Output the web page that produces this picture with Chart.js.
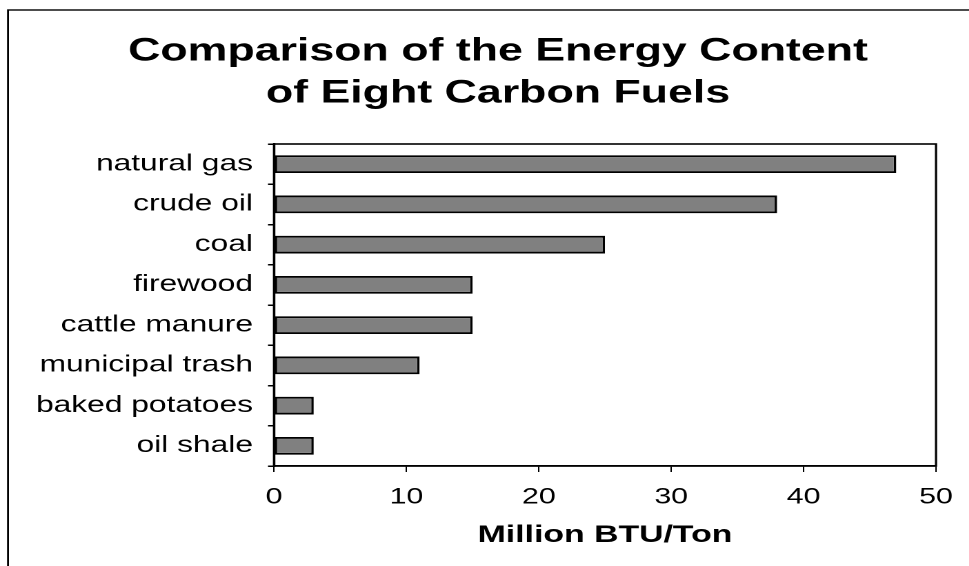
<!DOCTYPE html>
<html>
<head>
<meta charset="utf-8">
<script src="https://cdn.jsdelivr.net/npm/chart.js@4/dist/chart.umd.min.js"></script>
<style>
  html, body { margin: 0; padding: 0; background: #fff; overflow: hidden; }
  #wrap {
    position: absolute; left: 0; top: 0;
    width: 722px; height: 566px;
    transform: scaleX(1.3795); transform-origin: 0 0;
  }
</style>
</head>
<body>
<div id="wrap"><canvas id="c" width="722" height="566"></canvas></div>
<script>
// Fuel categories, top to bottom
const fuels = ['natural gas', 'crude oil', 'coal', 'firewood', 'cattle manure',
               'municipal trash', 'baked potatoes', 'oil shale'];
// Energy content, million BTU per ton
const energy = [47, 38, 25, 15, 15, 11, 3, 3];
// Value axis ticks
const xTicks = [0, 10, 20, 30, 40, 50];

const titleLines = ['Comparison of the Energy Content', 'of Eight Carbon Fuels'];
const xTitle = 'Million BTU/Ton';

// Drawing is done on a narrower canvas that is stretched horizontally
const SX = 1.3795;
const FONT = '"Liberation Sans", Arial, Helvetica, sans-serif';
const CANVAS_W = 722;
const PLOT_LEFT = 274 / SX;
const PLOT_RIGHT = 936 / SX;

const framePlugin = {
  id: 'frames',
  // centre the title across the whole frame rather than the padded area
  afterLayout(chart) {
    if (chart.titleBlock) {
      chart.titleBlock.left = 0;
      chart.titleBlock.right = CANVAS_W;
    }
  },
  beforeDraw(chart) {
    const ctx = chart.ctx;
    ctx.save();
    ctx.strokeStyle = '#000';
    ctx.lineWidth = 1.4;
    ctx.strokeRect(8 / SX, 10, 2000, 2000);
    ctx.restore();
  },
  afterDatasetsDraw(chart) {
    const a = chart.chartArea;
    const ctx = chart.ctx;
    ctx.save();
    ctx.strokeStyle = '#000';
    ctx.lineWidth = 1.6;
    ctx.strokeRect(a.left, a.top, a.right - a.left, a.bottom - a.top);
    ctx.restore();
  }
};

new Chart(document.getElementById('c'), {
  type: 'bar',
  data: {
    labels: fuels,
    datasets: [{
      data: energy,
      backgroundColor: '#808080',
      borderColor: '#000',
      borderWidth: 1.8,
      borderSkipped: false,
      categoryPercentage: 1,
      barPercentage: 0.44
    }]
  },
  options: {
    indexAxis: 'y',
    responsive: false,
    devicePixelRatio: 2,
    animation: false,
    layout: { padding: { left: 0, right: CANVAS_W - PLOT_RIGHT, top: 0, bottom: 0 } },
    plugins: {
      legend: { display: false },
      tooltip: { enabled: false },
      title: {
        display: true,
        text: titleLines,
        color: '#000',
        font: { family: FONT, size: 32.4, weight: 'bold', lineHeight: 42 / 32.4 },
        padding: { top: 30.5, bottom: 29.5 }
      }
    },
    scales: {
      x: {
        type: 'linear',
        min: 0,
        max: 50,
        afterBuildTicks(scale) { scale.ticks = xTicks.map(v => ({ value: v })); },
        afterFit(scale) { scale.height = 100; },
        ticks: {
          color: '#000',
          padding: 12.3,
          font: { family: FONT, size: 22 }
        },
        grid: {
          display: true,
          drawOnChartArea: false,
          drawTicks: true,
          tickLength: 6,
          color: '#000',
          lineWidth: 1
        },
        border: { display: true, color: '#000', width: 1.6 },
        title: {
          display: true,
          text: xTitle,
          color: '#000',
          font: { family: FONT, size: 24.5, weight: 'bold' },
          padding: { top: 4, bottom: 16 }
        }
      },
      y: {
        afterFit(scale) { scale.width = PLOT_LEFT; },
        ticks: {
          color: '#000',
          padding: 10.9,
          font: { family: FONT, size: 23 }
        },
        grid: {
          display: true,
          offset: true,
          drawOnChartArea: false,
          drawTicks: true,
          tickLength: 6 / SX,
          color: '#000',
          lineWidth: 1.5
        },
        border: { display: true, color: '#000', width: 1.6 }
      }
    }
  },
  plugins: [framePlugin]
});
</script>
</body>
</html>
